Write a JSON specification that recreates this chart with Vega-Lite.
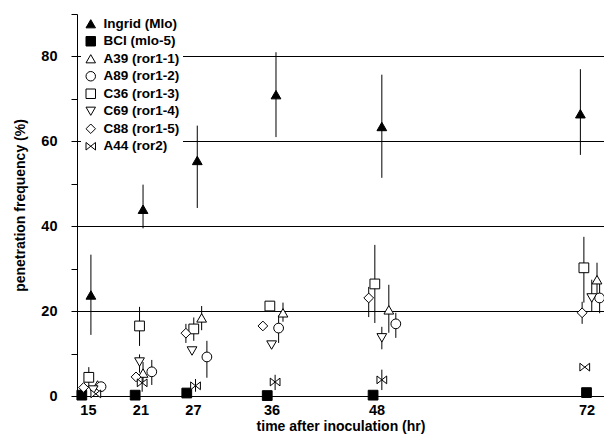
{
  "$schema": "https://vega.github.io/schema/vega-lite/v6.json",
  "autosize": "none",
  "width": 527,
  "height": 382,
  "padding": {"left": 77, "top": 14, "right": 0, "bottom": 42},
  "background": "white",
  "config": {"view": {"stroke": null}, "font": "Liberation Sans"},
  "data": {
    "values": [
      {"g": "Ingrid (Mlo)", "t": 15.34, "y": 23.8, "lo": 14.4, "hi": 33.3},
      {"g": "Ingrid (Mlo)", "t": 21.3, "y": 44, "lo": 39.5, "hi": 49.8},
      {"g": "Ingrid (Mlo)", "t": 27.5, "y": 55.5, "lo": 44.3, "hi": 63.7},
      {"g": "Ingrid (Mlo)", "t": 36.5, "y": 71, "lo": 61, "hi": 81},
      {"g": "Ingrid (Mlo)", "t": 48.6, "y": 63.5, "lo": 51.4, "hi": 75.7},
      {"g": "Ingrid (Mlo)", "t": 71.3, "y": 66.5, "lo": 56.8, "hi": 77},
      {"g": "BCI (mlo-5)", "t": 14.3, "y": 0.2},
      {"g": "BCI (mlo-5)", "t": 20.4, "y": 0.2},
      {"g": "BCI (mlo-5)", "t": 26.3, "y": 0.7},
      {"g": "BCI (mlo-5)", "t": 35.5, "y": 0.1},
      {"g": "BCI (mlo-5)", "t": 47.6, "y": 0.2},
      {"g": "BCI (mlo-5)", "t": 72.0, "y": 0.8},
      {"g": "A39 (ror1-1)", "t": 16.1, "y": 2.6},
      {"g": "A39 (ror1-1)", "t": 21.3, "y": 5.4, "lo": 3, "hi": 8},
      {"g": "A39 (ror1-1)", "t": 28.0, "y": 18.4, "lo": 15.5, "hi": 21.2},
      {"g": "A39 (ror1-1)", "t": 37.3, "y": 19.6, "lo": 17.5, "hi": 22},
      {"g": "A39 (ror1-1)", "t": 49.4, "y": 20.3, "lo": 14.9, "hi": 26.2},
      {"g": "A39 (ror1-1)", "t": 73.2, "y": 27.4, "lo": 23.4, "hi": 31.4},
      {"g": "A89 (ror1-2)", "t": 16.5, "y": 2.2},
      {"g": "A89 (ror1-2)", "t": 22.3, "y": 5.7, "lo": 2.6, "hi": 8.5},
      {"g": "A89 (ror1-2)", "t": 28.6, "y": 9.2, "lo": 4.3, "hi": 13},
      {"g": "A89 (ror1-2)", "t": 36.8, "y": 16, "lo": 12.5, "hi": 19},
      {"g": "A89 (ror1-2)", "t": 50.2, "y": 17, "lo": 13.7, "hi": 19.6},
      {"g": "A89 (ror1-2)", "t": 73.5, "y": 23.1, "lo": 19.5, "hi": 27},
      {"g": "C36 (ror1-3)", "t": 15.1, "y": 4.4, "lo": 2, "hi": 6.8},
      {"g": "C36 (ror1-3)", "t": 20.9, "y": 16.5, "lo": 11.8, "hi": 21},
      {"g": "C36 (ror1-3)", "t": 27.1, "y": 15.8, "lo": 13, "hi": 18.5},
      {"g": "C36 (ror1-3)", "t": 35.8, "y": 21.2},
      {"g": "C36 (ror1-3)", "t": 47.8, "y": 26.4, "lo": 17.2, "hi": 35.6},
      {"g": "C36 (ror1-3)", "t": 71.7, "y": 30.2, "lo": 22, "hi": 37.5},
      {"g": "C69 (ror1-4)", "t": 15.6, "y": 1.4},
      {"g": "C69 (ror1-4)", "t": 20.9, "y": 8.0, "lo": 5.5, "hi": 9.8},
      {"g": "C69 (ror1-4)", "t": 26.9, "y": 10.6},
      {"g": "C69 (ror1-4)", "t": 36.0, "y": 12},
      {"g": "C69 (ror1-4)", "t": 48.6, "y": 13.7, "lo": 11, "hi": 16.3},
      {"g": "C69 (ror1-4)", "t": 72.6, "y": 23.1, "lo": 20, "hi": 27.4},
      {"g": "C88 (ror1-5)", "t": 14.5, "y": 2.0},
      {"g": "C88 (ror1-5)", "t": 20.5, "y": 4.5},
      {"g": "C88 (ror1-5)", "t": 26.2, "y": 14.8, "lo": 12.5, "hi": 17},
      {"g": "C88 (ror1-5)", "t": 35.0, "y": 16.5},
      {"g": "C88 (ror1-5)", "t": 47.1, "y": 23.1, "lo": 18.6, "hi": 25.7},
      {"g": "C88 (ror1-5)", "t": 71.5, "y": 19.6, "lo": 17, "hi": 22.2},
      {"g": "A44 (ror2)", "t": 15.9, "y": 0.5},
      {"g": "A44 (ror2)", "t": 21.2, "y": 3.1, "lo": 1, "hi": 5},
      {"g": "A44 (ror2)", "t": 27.3, "y": 2.4, "lo": 1, "hi": 4},
      {"g": "A44 (ror2)", "t": 36.4, "y": 3.3, "lo": 1.4, "hi": 5},
      {"g": "A44 (ror2)", "t": 48.6, "y": 3.8, "lo": 1.4, "hi": 6.2},
      {"g": "A44 (ror2)", "t": 71.8, "y": 6.8}
    ]
  },
  "layer": [
    {
      "transform": [{"filter": "isValid(datum.lo)"}],
      "mark": {"type": "rule", "color": "black", "strokeWidth": 1},
      "encoding": {
        "x": {"field": "t", "type": "quantitative", "scale": {"domain": [13.75, 74], "nice": false, "zero": false},
          "axis": {"title": "time after inoculation (hr)", "values": [15, 21, 27, 36, 48, 72], "ticks": false, "grid": false, "domainColor": "black", "labelColor": "black", "labelFont": "Liberation Sans", "labelFontWeight": "bold", "labelFontSize": 14.5, "labelPadding": 7, "titleFont": "Liberation Sans", "titleFontWeight": "bold", "titleFontSize": 14, "titleColor": "black", "titlePadding": 3}},
        "y": {"field": "lo", "type": "quantitative", "scale": {"domain": [0, 90], "nice": false},
          "axis": {"title": "penetration frequency (%)", "values": [0, 10, 20, 30, 40, 50, 60, 70, 80, 90], "labelExpr": "datum.value % 20 === 0 && datum.value < 90 ? datum.label : ''", "grid": true, "gridColor": "black", "gridOpacity": {"condition": {"test": "datum.value % 20 === 0 && datum.value > 0 && datum.value < 90", "value": 1}, "value": 0}, "domainColor": "black", "tickColor": "black", "tickSize": 6, "labelColor": "black", "labelFont": "Liberation Sans", "labelFontWeight": "bold", "labelFontSize": 14.5, "labelPadding": 14, "titleFont": "Liberation Sans", "titleFontWeight": "bold", "titleFontSize": 14, "titleColor": "black", "titlePadding": 13}},
        "y2": {"field": "hi"}
      }
    },
    {
      "mark": {"type": "point", "filled": true, "strokeWidth": 1, "opacity": 1, "size": 95},
      "encoding": {
        "x": {"field": "t", "type": "quantitative",
          "axis": {"title": "time after inoculation (hr)", "values": [15, 21, 27, 36, 48, 72], "ticks": false, "grid": false, "domainColor": "black", "labelColor": "black", "labelFont": "Liberation Sans", "labelFontWeight": "bold", "labelFontSize": 14.5, "labelPadding": 7, "titleFont": "Liberation Sans", "titleFontWeight": "bold", "titleFontSize": 14, "titleColor": "black", "titlePadding": 3}},
        "y": {"field": "y", "type": "quantitative",
          "axis": {"title": "penetration frequency (%)", "values": [0, 10, 20, 30, 40, 50, 60, 70, 80, 90], "labelExpr": "datum.value % 20 === 0 && datum.value < 90 ? datum.label : ''", "grid": true, "gridColor": "black", "gridOpacity": {"condition": {"test": "datum.value % 20 === 0 && datum.value > 0 && datum.value < 90", "value": 1}, "value": 0}, "domainColor": "black", "tickColor": "black", "tickSize": 6, "labelColor": "black", "labelFont": "Liberation Sans", "labelFontWeight": "bold", "labelFontSize": 14.5, "labelPadding": 14, "titleFont": "Liberation Sans", "titleFontWeight": "bold", "titleFontSize": 14, "titleColor": "black", "titlePadding": 13}},
        "shape": {"field": "g", "type": "nominal",
          "scale": {"domain": ["Ingrid (Mlo)", "BCI (mlo-5)", "A39 (ror1-1)", "A89 (ror1-2)", "C36 (ror1-3)", "C69 (ror1-4)", "C88 (ror1-5)", "A44 (ror2)"],
            "range": ["triangle-up", "square", "triangle-up", "circle", "square", "triangle-down", "diamond", "M-1,-0.8L1,0.8L1,-0.8L-1,0.8Z"]},
          "legend": {"orient": "none", "legendX": 4, "legendY": 0, "title": null, "fillColor": "white", "padding": 3, "labelFont": "Liberation Sans", "labelFontSize": 13.5, "labelFontWeight": "bold", "labelColor": "black", "labelOffset": 6, "symbolSize": 90, "symbolStrokeWidth": 1, "rowPadding": 2.5}},
        "fill": {"field": "g", "type": "nominal",
          "scale": {"domain": ["Ingrid (Mlo)", "BCI (mlo-5)", "A39 (ror1-1)", "A89 (ror1-2)", "C36 (ror1-3)", "C69 (ror1-4)", "C88 (ror1-5)", "A44 (ror2)"],
            "range": ["black", "black", "white", "white", "white", "white", "white", "white"]},
          "legend": {"orient": "none", "legendX": 4, "legendY": 0, "title": null, "fillColor": "white", "padding": 3, "labelFont": "Liberation Sans", "labelFontSize": 13.5, "labelFontWeight": "bold", "labelColor": "black", "labelOffset": 6, "symbolSize": 90, "symbolStrokeWidth": 1, "rowPadding": 2.5}},
        "stroke": {"field": "g", "type": "nominal",
          "scale": {"domain": ["Ingrid (Mlo)", "BCI (mlo-5)", "A39 (ror1-1)", "A89 (ror1-2)", "C36 (ror1-3)", "C69 (ror1-4)", "C88 (ror1-5)", "A44 (ror2)"],
            "range": ["black", "black", "black", "black", "black", "black", "black", "black"]},
          "legend": {"orient": "none", "legendX": 4, "legendY": 0, "title": null, "fillColor": "white", "padding": 3, "labelFont": "Liberation Sans", "labelFontSize": 13.5, "labelFontWeight": "bold", "labelColor": "black", "labelOffset": 6, "symbolSize": 90, "symbolStrokeWidth": 1, "rowPadding": 2.5}}
      }
    }
  ]
}
